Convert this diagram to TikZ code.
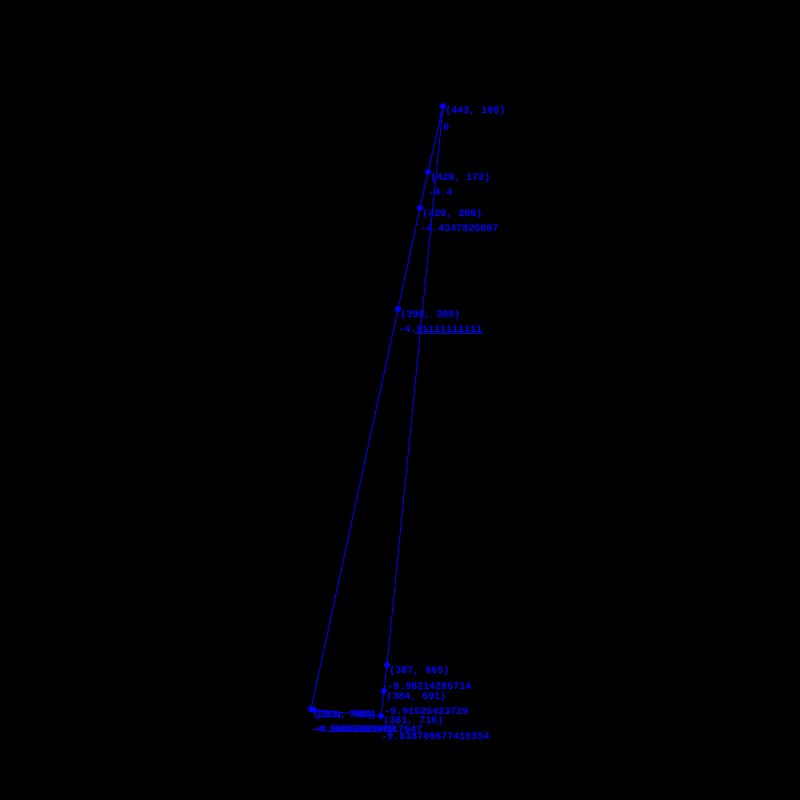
\documentclass[tikz,border=0pt]{standalone}
\usepackage{fontspec}
\setmonofont{Liberation Mono}
\usepackage{xcolor}
\usetikzlibrary{positioning,calc}
\definecolor{hullblue}{RGB}{0,0,255}
\tikzset{
  hull/.style={x=0.02cm,y=-0.02cm,
    every node/.style={inner sep=0pt,text=hullblue,
                       font=\ttfamily\bfseries\fontsize{5.7}{6}\selectfont}},
  pt/.style={circle,fill=hullblue,minimum size=0.12cm},
  lbl/.style={anchor=west},
  edge/.style={hullblue,line width=0.5pt}}

\begin{document}
\begin{tikzpicture}[hull]
  \fill[black] (0,0) rectangle (800,800);
  \useasboundingbox (0,0) rectangle (800,800);
  % points
  \node[pt] (A) at (443,106) {};
  \node[pt] (B) at (428,172) {};
  \node[pt] (C) at (420,208) {};
  \node[pt] (D) at (398,309) {};
  \node[pt] (E) at (311,709) {};
  \node[pt] (F) at (314,710) {};
  \node[pt] (G) at (381,716) {};
  \node[pt] (H) at (384,691) {};
  \node[pt] (I) at (387,665) {};
  % polygon
  \draw[edge] (A.center) -- (B.center) -- (C.center) -- (D.center) -- (E.center)
    -- (F.center) -- (G.center) -- (H.center) -- (I.center) -- (A.center);
  % labels
  \node[lbl] (Ac) at (445,111) {(443, 106)};
  \node[lbl] (As) at (443,127) {0};
  \node[lbl] (Bc) at (430,178) {(428, 172)};
  \node[lbl] (Bs) at (428,192) {-4.4};
  \node[lbl] (Cc) at (422,214) {(420, 208)};
  \node[lbl] (Cs) at (420,228) {-4.4347826087};
  \node[lbl] (Dc) at (400,315) {(398, 309)};
  \node[lbl] (Ds) at (398,329) {-4.51111111111};
  \draw[edge] (Ds.south west) ++(17,1) coordinate (u) -- (Ds.south east |- u);
  \node[lbl] (Ec) at (313,715) {(311, 709)};
  \node[lbl] (Es) at (311,729) {-4.56818181818};
  \node[lbl] (Fc) at (316,715) {(314, 710)};
  \node[lbl] (Fs) at (314,729) {-4.588235294117647};
  \node[lbl] (Gc) at (383,721) {(381, 716)};
  \node[lbl] (Gs) at (381,736) {-9.838709677419354};
  \node[lbl] (Hc) at (386,697) {(384, 691)};
  \node[lbl] (Hs) at (384,711) {-9.91525423729};
  \node[lbl] (Ic) at (389,671) {(387, 665)};
  \node[lbl] (Is) at (387,686) {-9.98214285714};
\end{tikzpicture}
\end{document}
